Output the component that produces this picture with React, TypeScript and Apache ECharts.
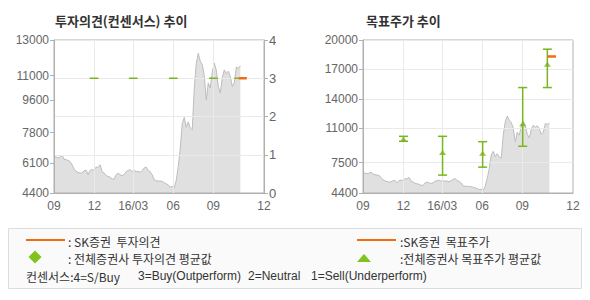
import React, { useEffect, useRef } from 'react';
import * as echarts from 'echarts';

// Price series (2px steps, Sep 2015 -> Nov 2016)
const prices = [
  6420, 6440, 6364, 6420, 6530, 6307, 6270, 6230, 6173, 5988,
  5745, 5630, 5560, 5522, 5522, 5650, 5690, 5427, 5670, 5707,
  5690, 5855, 5840, 5988, 5612, 5522, 5390, 5331, 5290, 5180,
  5180, 5427, 5522, 5427, 5370, 5445, 5595, 5670, 5707, 5612,
  5670, 5595, 5612, 5560, 5650, 5803, 5855, 5670, 5595, 5427,
  5146, 5090, 5070, 5070, 5051, 4980, 4920, 4845, 4735, 4770,
  4680, 5100, 5890, 6900, 8300, 8650, 8100, 8400, 8050, 7950,
  10300, 11690, 12250, 11800, 11600, 11000, 9630, 10590, 10300, 11200,
  11700, 11300, 10380, 10020, 10900, 11320, 11100, 11250, 10940, 10380,
  10600, 11480, 11400, 11550,
];

const quarterTicks = [0, 20.2, 39.5, 59.5, 79.5, 104.8];
const quarterLabels = ['09', '12', '16/03', '06', '09', '12'];
const innerQuarters = [20.2, 39.5, 59.5, 79.5];
const xMax = 104.8;

const opinionPriceTicks = [4400, 6100, 7800, 9600, 11000, 13000];
const targetTicks = [4400, 7500, 11000, 14000, 17000, 20000];

// [xStart, xEnd, opinion]
const avgOpinionSpans = [
  [17.8, 22.2, 3],
  [37.4, 41.7, 3],
  [57.4, 61.7, 3],
  [77.4, 81.7, 3],
  [90, 92.2, 3],
];
const skOpinionSpans = [[92.2, 96.2, 3]];

// [x, low, high]
const targetRanges = [
  [20.2, 9673, 10180],
  [39.7, 6225, 10180],
  [59.7, 7036, 9632],
  [79.7, 9166, 15150],
  [92, 15150, 19063],
];
const targetAvgs = [
  [20.2, 9876],
  [39.7, 8517],
  [59.7, 8456],
  [79.7, 11457],
  [92, 17540],
];
const skTargetSpans = [[92, 96.3, 18320]];

const GREEN = '#7ab51d';
const ORANGE = '#f26c0d';
const AXIS = '#b0b0b0';
const GRIDC = '#eaeaea';
const LABEL = '#666';
const NUMFONT = '"Liberation Sans", Arial, sans-serif';
const KFONT = '"Noto Sans CJK KR", "Noto Sans", sans-serif';

const qLabel = (v: number) => {
  for (let i = 0; i < quarterTicks.length; i++) {
    if (Math.abs(quarterTicks[i] - v) < 0.01) return quarterLabels[i];
  }
  return '';
};

const segRender = (color: string, width: number) => (params: any, api: any) => {
  const y = api.value(2);
  const p0 = api.coord([api.value(0), y]);
  const p1 = api.coord([api.value(1), y]);
  return {
    type: 'line',
    shape: { x1: p0[0], y1: p0[1], x2: p1[0], y2: p1[1] },
    style: { stroke: color, lineWidth: width },
  };
};

const errRender = (params: any, api: any) => {
  const x = api.value(0);
  const lo = api.coord([x, api.value(1)]);
  const hi = api.coord([x, api.value(2)]);
  const hw = 4.5;
  const st = { stroke: GREEN, lineWidth: 1.5 };
  return {
    type: 'group',
    children: [
      { type: 'line', shape: { x1: hi[0], y1: hi[1], x2: lo[0], y2: lo[1] }, style: st },
      { type: 'line', shape: { x1: hi[0] - hw, y1: hi[1], x2: hi[0] + hw, y2: hi[1] }, style: st },
      { type: 'line', shape: { x1: lo[0] - hw, y1: lo[1], x2: lo[0] + hw, y2: lo[1] }, style: st },
    ],
  };
};

const makeX = (gridIndex: number) => ({
  type: 'value',
  gridIndex,
  min: 0,
  max: xMax,
  z: 3,
  axisLine: { show: true, lineStyle: { color: AXIS } },
  axisTick: { show: false, customValues: innerQuarters },
  axisLabel: {
    customValues: quarterTicks,
    formatter: (v: number) => qLabel(v),
    color: LABEL,
    fontSize: 12,
    fontFamily: NUMFONT,
    margin: 7,
  },
  splitLine: { show: true, lineStyle: { color: GRIDC } },
});

const yLabel = {
  color: LABEL,
  fontSize: 12,
  fontFamily: NUMFONT,
  margin: 5,
  formatter: (v: number) => String(v),
};

const txt = (text: string, x: number, y: number, font: string) => ({
  type: 'text',
  x,
  y,
  style: { text, fill: '#333', font, verticalAlign: 'middle', align: 'left' },
});

export default function App() {
  const ref = useRef<HTMLDivElement>(null);
  useEffect(() => {
    if (!ref.current) return;
    const chart = echarts.init(ref.current, null, { renderer: 'svg' });
    const priceData = prices.map((v, i) => [i, v]);
    const option: any = {
      animation: false,
      backgroundColor: '#ffffff',
      grid: [
        { left: 54, top: 40, width: 210, height: 153, show: true, borderColor: AXIS, borderWidth: 1, z: 3 },
        { left: 363, top: 40, width: 210, height: 153, show: true, borderColor: AXIS, borderWidth: 1, z: 3 },
      ],
      xAxis: [makeX(0), makeX(1)],
      yAxis: [
        {
          type: 'value', gridIndex: 0, min: 4400, max: 13000, position: 'left', z: 3,
          axisLine: { show: true, lineStyle: { color: AXIS } },
          axisTick: { show: true, length: 4, customValues: opinionPriceTicks, lineStyle: { color: AXIS } },
          axisLabel: { ...yLabel, customValues: opinionPriceTicks },
          splitLine: { show: false },
        },
        {
          type: 'value', gridIndex: 0, min: 0, max: 4, interval: 1, position: 'right', z: 3,
          axisLine: { show: true, lineStyle: { color: AXIS } },
          axisTick: { show: true, length: 4, lineStyle: { color: AXIS } },
          axisLabel: { ...yLabel, fontSize: 13 },
          splitLine: { show: true, lineStyle: { color: GRIDC } },
        },
        {
          type: 'value', gridIndex: 1, min: 4400, max: 20000, position: 'left', z: 3,
          axisLine: { show: true, lineStyle: { color: AXIS } },
          axisTick: { show: true, length: 4, customValues: targetTicks, lineStyle: { color: AXIS } },
          axisLabel: { ...yLabel, customValues: targetTicks },
          splitLine: { show: true, lineStyle: { color: GRIDC } },
        },
      ],
      series: [
        {
          type: 'line', xAxisIndex: 0, yAxisIndex: 0, data: priceData, symbol: 'none',
          lineStyle: { color: '#bdbdbd', width: 1 },
          areaStyle: { color: '#e0e0e0', origin: 'start', opacity: 1 },
          z: 1,
        },
        {
          type: 'custom', xAxisIndex: 0, yAxisIndex: 1, data: avgOpinionSpans,
          encode: { x: [0, 1], y: 2 }, renderItem: segRender(GREEN, 1.5), z: 5,
        },
        {
          type: 'custom', xAxisIndex: 0, yAxisIndex: 1, data: skOpinionSpans,
          encode: { x: [0, 1], y: 2 }, renderItem: segRender(ORANGE, 2.5), z: 6,
        },
        {
          type: 'line', xAxisIndex: 1, yAxisIndex: 2, data: priceData, symbol: 'none',
          lineStyle: { color: '#bdbdbd', width: 1 },
          areaStyle: { color: '#e0e0e0', origin: 'start', opacity: 1 },
          z: 1,
        },
        {
          type: 'custom', xAxisIndex: 1, yAxisIndex: 2, data: targetRanges,
          encode: { x: 0, y: [1, 2] }, renderItem: errRender, z: 5,
        },
        {
          type: 'scatter', xAxisIndex: 1, yAxisIndex: 2, data: targetAvgs,
          symbol: 'triangle', symbolSize: [7, 5], itemStyle: { color: GREEN }, z: 6,
        },
        {
          type: 'custom', xAxisIndex: 1, yAxisIndex: 2, data: skTargetSpans,
          encode: { x: [0, 1], y: 2 }, renderItem: segRender(ORANGE, 2.5), z: 7,
        },
      ],
      graphic: [
        txt('투자의견(컨센서스) 추이', 55, 20, `bold 13px ${KFONT}`),
        txt('목표주가 추이', 366, 20, `bold 13px ${KFONT}`),
        {
          type: 'rect', shape: { x: 8.5, y: 228.5, width: 573, height: 60 },
          style: { fill: '#fafafa', stroke: '#dcdcdc', lineWidth: 1 },
        },
        { type: 'line', shape: { x1: 26, y1: 240, x2: 65, y2: 240 }, style: { stroke: ORANGE, lineWidth: 2 } },
        txt(': SK증권  투자의견', 68, 241, `12px ${KFONT}`),
        {
          type: 'polygon', shape: { points: [[35, 250.5], [41.5, 257], [35, 263.5], [28.5, 257]] },
          style: { fill: '#7fc31c' },
        },
        txt(': 전체증권사 투자의견 평균값', 68, 258, `12px ${KFONT}`),
        { type: 'line', shape: { x1: 357, y1: 240, x2: 396, y2: 240 }, style: { stroke: ORANGE, lineWidth: 2 } },
        txt(':SK증권  목표주가', 400, 241, `12px ${KFONT}`),
        {
          type: 'polygon', shape: { points: [[357, 262], [371, 262], [364, 254]] },
          style: { fill: '#7fc31c' },
        },
        txt(':전체증권사 목표주가 평균값', 400, 258, `12px ${KFONT}`),
        txt('컨센서스:4=S/Buy', 26, 276, `12px ${KFONT}`),
        txt('3=Buy(Outperform)', 138, 276, `12px ${NUMFONT}`),
        txt('2=Neutral', 248, 276, `12px ${NUMFONT}`),
        txt('1=Sell(Underperform)', 311, 276, `12px ${NUMFONT}`),
      ],
    };
    chart.setOption(option);
    return () => chart.dispose();
  }, []);
  return (
    <div
      ref={ref}
      style={{ position: 'absolute', left: 0, top: 0, width: 590, height: 300, background: '#fff' }}
    />
  );
}
